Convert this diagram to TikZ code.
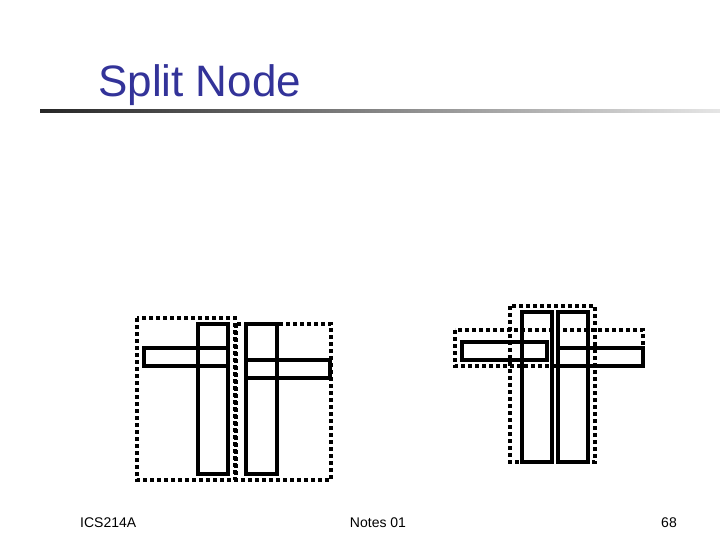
\documentclass[tikz,border=0pt]{standalone}
\usepackage{fontspec}
\setmainfont{Liberation Sans}
\definecolor{titleblue}{HTML}{333399}
\begin{document}
\begin{tikzpicture}[x=1pt,y=-1pt,
  solidbox/.style={draw=black,line width=3.5pt},
  dotbox/.style={draw=black,line width=3.5pt,dash pattern=on 4pt off 3pt},
  foot/.style={font=\fontsize{14pt}{16pt}\selectfont,inner sep=0pt}]
\useasboundingbox (0,0) rectangle (720,540);
\fill[white] (0,0) rectangle (720,540);
\node[anchor=base west,inner sep=0pt,text=titleblue,font=\fontsize{44pt}{48pt}\selectfont] (title) at (98,97) {Split Node};
\shade[left color=black!85,right color=black!10] (40,110) rectangle (720,113);
% left figure
\draw[dotbox] (137,318) rectangle (235,480);
\draw[dotbox] (236,324) rectangle (331,480);
\draw[solidbox] (198,324) rectangle (228,474);
\draw[solidbox] (144,348) rectangle (228,366);
\draw[solidbox] (246,324) rectangle (277,474);
\draw[solidbox] (246,360) rectangle (330,378);
% right figure
\draw[dotbox] (455,330) rectangle (643,366);
\draw[dotbox] (510,306) rectangle (595,462);
\draw[solidbox] (522,312) rectangle (552,462);
\draw[solidbox] (558,312) rectangle (588,462);
\draw[solidbox] (462,342) rectangle (547,360);
\draw[solidbox] (558,348) rectangle (643,366);
% footer
\node[foot,anchor=base west] (f1) at (80,527) {ICS214A};
\node[foot,anchor=base] (f2) at (378,527) {Notes 01};
\node[foot,anchor=base east] (f3) at (677,527) {68};
\end{tikzpicture}
\end{document}
